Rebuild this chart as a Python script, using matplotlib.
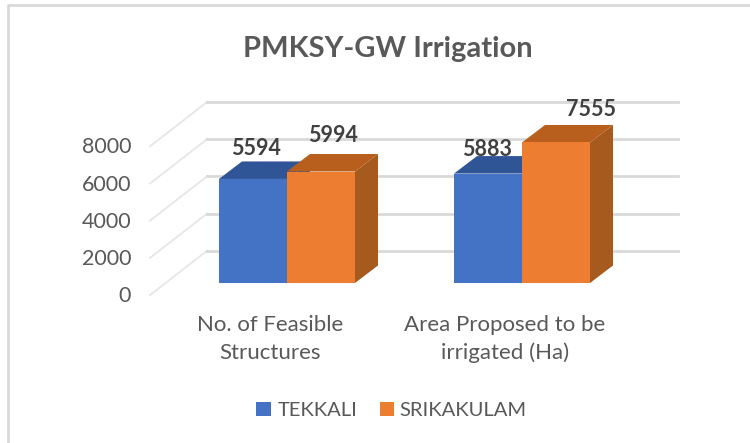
import matplotlib
matplotlib.use('Agg')
import matplotlib.pyplot as plt
from matplotlib.patches import Polygon, Rectangle

plt.rcParams['font.family'] = ['Lato', 'DejaVu Sans']

# values
categories = ['No. of Feasible\nStructures', 'Area Proposed to be\nirrigated (Ha)']
series_names = ['TEKKALI', 'SRIKAKULAM']
tekkali = [5594, 5883]
srikakulam = [5994, 7555]
y_ticks = [0, 2000, 4000, 6000, 8000]

colors = ['#4472C4', '#ED7D31']
top_colors = ['#2F5597', '#B85F1E']
side_colors = ['#2F5597', '#A65A1E']

# scale of the picture: 235 px per category, 0.0186 px per unit
px_x = 235
px_y = 0.0186
bar_w = 68 / px_x
dep_x = 23 / px_x
dep_y = 17.5 / px_y

# data label shift from the bar's top centre, in px
label_dx = [[3, -1], [12, 35]]
label_dy = [[30, 24], [36, 33]]

fig = plt.figure(figsize=(7.5, 4.43), dpi=100)
ax = fig.add_axes([0, 0, 1, 1])
ax.set_xlim(-287 / px_x, 463 / px_x)
ax.set_ylim(-160 / px_y, 283 / px_y)
ax.axis('off')

# gridlines, front wall going back then along the back wall
fx = -137 / px_x
bx = -80 / px_x
ex = 391 / px_x
fy = -650
by = 1730
grid = '#D9D9D9'
for t in y_ticks:
    ax.plot([fx, bx], [t + fy, t + by], color='#E6E6E6', lw=1.3, zorder=1)
    ax.plot([bx, ex], [t + by, t + by], color=grid, lw=2, zorder=1)
    ax.text(fx - 19 / px_x, t + fy - 60, str(t), ha='right', va='center',
            fontsize=15.5, color='#595959')


def bar3d(x0, v, i, z):
    x1 = x0 + bar_w
    ax.add_patch(Polygon([(x1, 0), (x1 + dep_x, dep_y), (x1 + dep_x, v + dep_y), (x1, v)],
                         fc=side_colors[i], ec='none', zorder=z))
    ax.add_patch(Polygon([(x0, v), (x0 + dep_x, v + dep_y), (x1 + dep_x, v + dep_y), (x1, v)],
                         fc=top_colors[i], ec='none', zorder=z))
    ax.add_patch(Rectangle((x0, 0), bar_w, v, fc=colors[i], ec='none', zorder=z + 0.5))


for k in range(len(categories)):
    bar3d(k - bar_w, tekkali[k], 0, 3)
    bar3d(k, srikakulam[k], 1, 4)
    ax.text(k - bar_w / 2 + label_dx[0][k] / px_x, tekkali[k] + label_dy[0][k] / px_y,
            str(tekkali[k]), ha='center', va='center',
            fontsize=15.5, fontweight='bold', color='#404040', zorder=6)
    ax.text(k + bar_w / 2 + label_dx[1][k] / px_x, srikakulam[k] + label_dy[1][k] / px_y,
            str(srikakulam[k]), ha='center', va='center',
            fontsize=15.5, fontweight='bold', color='#404040', zorder=6)
    ax.text(k - 17 / px_x, -56 / px_y, categories[k], ha='center', va='center', fontsize=16,
            color='#595959', linespacing=1.5)

ax.text(101 / px_x, 234 / px_y, 'PMKSY-GW Irrigation', ha='center', va='center',
        fontsize=21, fontweight='bold', color='#595959')

# legend
ax.add_patch(Rectangle((-31 / px_x, -133 / px_y), 15 / px_x, 14 / px_y, fc=colors[0], ec='none'))
ax.text(-9 / px_x, -128 / px_y, series_names[0], ha='left', va='center', fontsize=14.5, color='#595959')
ax.add_patch(Rectangle((93 / px_x, -133 / px_y), 14 / px_x, 14 / px_y, fc=colors[1], ec='none'))
ax.text(112 / px_x, -128 / px_y, series_names[1], ha='left', va='center', fontsize=14.5, color='#595959')

# chart border, left and top only
ax.plot([-279 / px_x, -279 / px_x, 463 / px_x], [-160 / px_y, 278 / px_y, 278 / px_y], color=grid, lw=2)

fig.savefig('out.png', dpi=100)
